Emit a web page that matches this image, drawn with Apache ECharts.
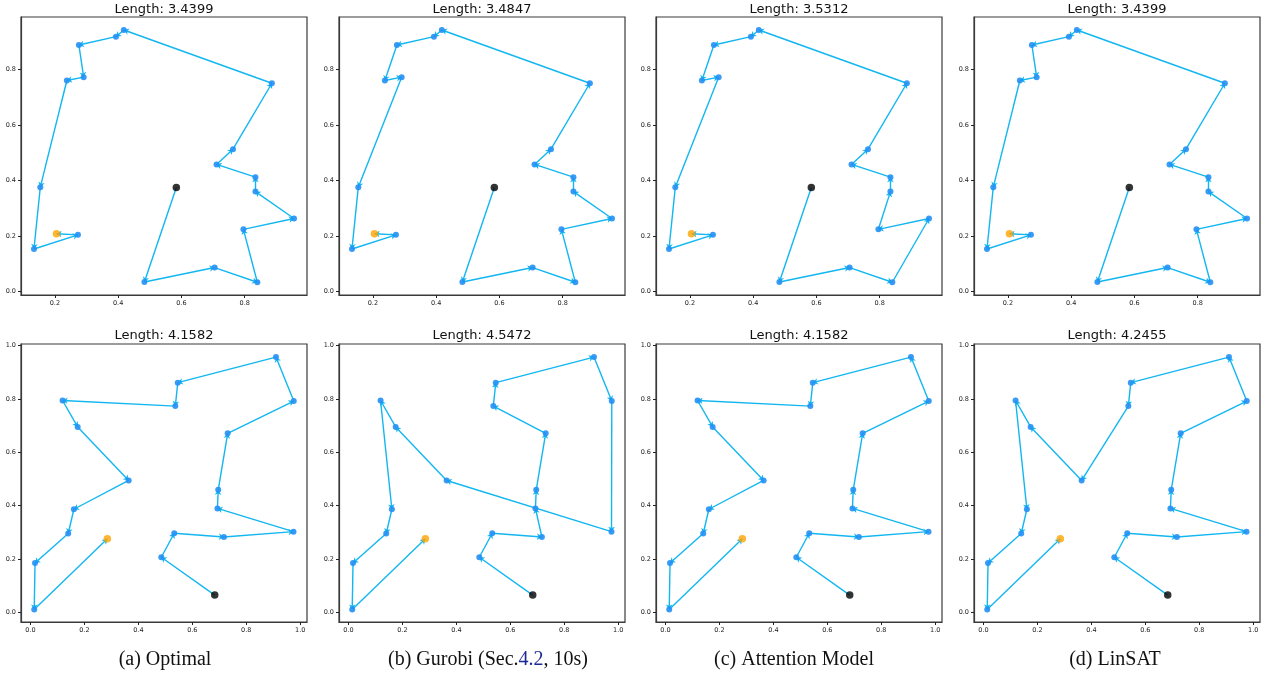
<!DOCTYPE html>
<html>
<head>
<meta charset="utf-8">
<script src="https://cdn.jsdelivr.net/npm/echarts@6/dist/echarts.min.js"></script>
<style>
  html, body { margin: 0; padding: 0; background: #fff; }
  #main { width: 1267px; height: 678px; }
</style>
</head>
<body>
<div id="main"></div>
<script>
// Cities of the two instances (index 0 = black start, index 19 = orange end)
var topCities = [
  [0.584, 0.375], [0.483, 0.034], [0.705, 0.086], [0.840, 0.033], [0.796, 0.224],
  [0.956, 0.263], [0.834, 0.360], [0.834, 0.412], [0.711, 0.458], [0.763, 0.513],
  [0.886, 0.751], [0.418, 0.943], [0.393, 0.919], [0.276, 0.889], [0.291, 0.773],
  [0.238, 0.761], [0.154, 0.376], [0.134, 0.153], [0.273, 0.204], [0.205, 0.208]
];
var bottomCities = [
  [0.683, 0.064], [0.485, 0.206], [0.533, 0.296], [0.717, 0.282], [0.975, 0.302],
  [0.693, 0.389], [0.696, 0.459], [0.731, 0.671], [0.976, 0.792], [0.910, 0.957],
  [0.546, 0.861], [0.537, 0.773], [0.119, 0.794], [0.175, 0.695], [0.364, 0.494],
  [0.161, 0.386], [0.140, 0.295], [0.017, 0.184], [0.014, 0.010], [0.285, 0.275]
];

// Tours (visiting order) for each method
var topTours = [
  [0, 1, 2, 3, 4, 5, 6, 7, 8, 9, 10, 11, 12, 13, 14, 15, 16, 17, 18, 19],
  [0, 1, 2, 3, 4, 5, 6, 7, 8, 9, 10, 11, 12, 13, 15, 14, 16, 17, 18, 19],
  [0, 1, 2, 3, 5, 4, 6, 7, 8, 9, 10, 11, 12, 13, 15, 14, 16, 17, 18, 19],
  [0, 1, 2, 3, 4, 5, 6, 7, 8, 9, 10, 11, 12, 13, 14, 15, 16, 17, 18, 19]
];
var bottomTours = [
  [0, 1, 2, 3, 4, 5, 6, 7, 8, 9, 10, 11, 12, 13, 14, 15, 16, 17, 18, 19],
  [0, 1, 2, 3, 5, 6, 7, 11, 10, 9, 8, 4, 14, 13, 12, 15, 16, 17, 18, 19],
  [0, 1, 2, 3, 4, 5, 6, 7, 8, 9, 10, 11, 12, 13, 14, 15, 16, 17, 18, 19],
  [0, 1, 2, 3, 4, 5, 6, 7, 8, 9, 10, 11, 14, 13, 12, 15, 16, 17, 18, 19]
];

var topLengths = ["3.4399", "3.4847", "3.5312", "3.4399"];
var bottomLengths = ["4.1582", "4.5472", "4.1582", "4.2455"];
var captions = ["(a) Optimal", "(b) Gurobi (Sec.{ref|4.2}, 10s)", "(c) Attention Model", "(d) LinSAT"];

var topXTicks = [0.2, 0.4, 0.6, 0.8];
var topYTicks = [0.0, 0.2, 0.4, 0.6, 0.8];
var bottomTicks = [0.0, 0.2, 0.4, 0.6, 0.8, 1.0];

var chart = echarts.init(document.getElementById("main"));

// layout
var colLeft = [21, 339, 656, 974];
var rowTop = [17, 344];
var boxW = 286, boxH = 278;
var captionCenter = [165, 488, 794, 1115];

var lineColor = "#12b6f0";
var dotColor = "#2490f4";
var frameColor = "#3a3a3a";

var grid = [], xAxis = [], yAxis = [], series = [], title = [];

function tickLabel(vals) {
  return {
    customValues: vals, margin: 5, fontSize: 6.5, color: "#222", fontFamily: "DejaVu Sans",
    formatter: function (v) { return v.toFixed(1); }
  };
}

function addPanel(idx, row, col, cities, tour, length) {
  grid.push({
    left: colLeft[col], top: rowTop[row], width: boxW, height: boxH,
    show: true, borderColor: frameColor, borderWidth: 1.2, backgroundColor: "#fff"
  });
  var isTop = row === 0;
  var xt = isTop ? topXTicks : bottomTicks;
  var yt = isTop ? topYTicks : bottomTicks;
  xAxis.push({
    type: "value", gridIndex: idx,
    min: isTop ? 0.093 : -0.035, max: isTop ? 0.997 : 1.025,
    axisLine: { show: true, onZero: false, lineStyle: { color: frameColor, width: 1.2 } },
    splitLine: { show: false },
    axisTick: { show: true, length: 3, customValues: xt, lineStyle: { color: "#222" } },
    axisLabel: tickLabel(xt)
  });
  yAxis.push({
    type: "value", gridIndex: idx,
    min: isTop ? -0.013 : -0.037, max: isTop ? 0.99 : 1.006,
    axisLine: { show: true, onZero: false, lineStyle: { color: frameColor, width: 1.2 } },
    splitLine: { show: false },
    axisTick: { show: true, length: 3, customValues: yt, lineStyle: { color: "#222" } },
    axisLabel: tickLabel(yt)
  });

  // tour edges with arrowheads
  var edges = [];
  for (var i = 0; i < tour.length - 1; i++) {
    edges.push({ coords: [cities[tour[i]], cities[tour[i + 1]]] });
  }
  series.push({
    type: "lines", coordinateSystem: "cartesian2d",
    xAxisIndex: idx, yAxisIndex: idx,
    data: edges,
    symbol: ["none", "arrow"], symbolSize: 5,
    lineStyle: { color: lineColor, width: 1.4, opacity: 1 },
    silent: true, z: 2
  });
  series.push({
    type: "scatter", xAxisIndex: idx, yAxisIndex: idx,
    data: cities.slice(1, cities.length - 1),
    symbolSize: 6, itemStyle: { color: dotColor, opacity: 0.9 },
    silent: true, z: 3
  });
  series.push({
    type: "scatter", xAxisIndex: idx, yAxisIndex: idx,
    data: [cities[cities.length - 1]],
    symbolSize: 7.5, itemStyle: { color: "#ffa500" },
    silent: true, z: 4
  });
  series.push({
    type: "scatter", xAxisIndex: idx, yAxisIndex: idx,
    data: [cities[0]],
    symbolSize: 7.5, itemStyle: { color: "#000" },
    silent: true, z: 4
  });

  title.push({
    text: "Length: " + length,
    left: colLeft[col] + boxW / 2, top: row === 0 ? 3 : 329.5,
    textAlign: "center", padding: 0,
    textStyle: { fontFamily: "DejaVu Sans", fontSize: 13, fontWeight: "normal", color: "#111" }
  });
}

for (var c = 0; c < 4; c++) {
  addPanel(c, 0, c, topCities, topTours[c], topLengths[c]);
}
for (var c2 = 0; c2 < 4; c2++) {
  addPanel(4 + c2, 1, c2, bottomCities, bottomTours[c2], bottomLengths[c2]);
}

// subfigure captions
captions.forEach(function (txt, k) {
  title.push({
    text: txt,
    left: captionCenter[k], top: 650,
    textAlign: "center", padding: 0,
    textStyle: {
      fontFamily: "Liberation Serif", fontSize: 20, fontWeight: "normal", color: "#111",
      rich: {
        ref: { fontFamily: "Liberation Serif", fontSize: 20, color: "#1c2a96" }
      }
    }
  });
});

var option = {
  animation: false,
  backgroundColor: "#fff",
  title: title,
  grid: grid,
  xAxis: xAxis,
  yAxis: yAxis,
  series: series
};

chart.setOption(option);
</script>
</body>
</html>
